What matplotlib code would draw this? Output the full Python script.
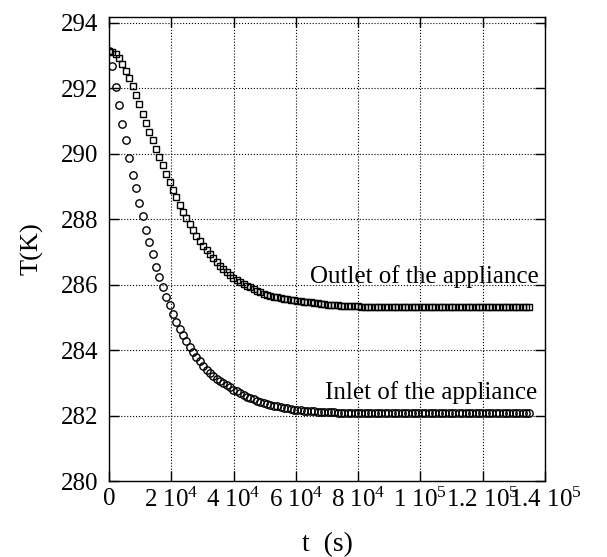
import numpy as np
import matplotlib.pyplot as plt

# time step between samples (s)
dt = 1080

# T(K) at the inlet of the appliance (circles)
inlet = [
    293.12, 292.66, 292.02, 291.47, 290.90, 290.40, 289.85, 289.36, 288.94, 288.48,
    288.08, 287.67, 287.30, 286.92, 286.55, 286.22, 285.92, 285.63, 285.36, 285.10,
    284.86, 284.64, 284.46, 284.27, 284.10, 283.93, 283.79, 283.65, 283.50, 283.39,
    283.30, 283.21, 283.13, 283.06, 283.00, 282.93, 282.86, 282.79, 282.74, 282.68,
    282.63, 282.58, 282.54, 282.49, 282.44, 282.41, 282.37, 282.34, 282.32, 282.30,
    282.28, 282.26, 282.24, 282.22, 282.20, 282.18, 282.17, 282.16, 282.15, 282.14,
    282.13, 282.13, 282.12, 282.12, 282.11, 282.11, 282.10, 282.10, 282.09, 282.09,
    282.09, 282.08, 282.08, 282.08, 282.08, 282.08, 282.08, 282.08, 282.08, 282.08,
    282.07, 282.07, 282.07, 282.07, 282.07, 282.07, 282.07, 282.07, 282.07, 282.07,
    282.07, 282.07, 282.07, 282.07, 282.07, 282.07, 282.07, 282.07, 282.07, 282.07,
    282.07, 282.07, 282.07, 282.07, 282.07, 282.07, 282.07, 282.07, 282.07, 282.07,
    282.07, 282.07, 282.07, 282.07, 282.07, 282.07, 282.07, 282.07, 282.07, 282.07,
    282.07, 282.07, 282.07, 282.07, 282.07, 282.07,
]

# T(K) at the outlet of the appliance (squares)
outlet = [
    293.12, 293.11, 293.04, 292.91, 292.73, 292.53, 292.30, 292.05, 291.78, 291.50,
    291.22, 290.93, 290.66, 290.40, 290.14, 289.89, 289.64, 289.39, 289.14, 288.90,
    288.66, 288.44, 288.23, 288.03, 287.84, 287.66, 287.49, 287.33, 287.18, 287.05,
    286.93, 286.81, 286.69, 286.58, 286.48, 286.38, 286.29, 286.21, 286.14, 286.07,
    286.01, 285.96, 285.91, 285.85, 285.80, 285.76, 285.72, 285.69, 285.66, 285.63,
    285.61, 285.59, 285.57, 285.55, 285.53, 285.52, 285.50, 285.49, 285.48, 285.47,
    285.46, 285.45, 285.43, 285.42, 285.40, 285.39, 285.38, 285.37, 285.36, 285.35,
    285.35, 285.34, 285.34, 285.33, 285.33, 285.32, 285.32, 285.32, 285.32, 285.32,
    285.32, 285.32, 285.32, 285.32, 285.32, 285.32, 285.32, 285.32, 285.32, 285.32,
    285.32, 285.32, 285.32, 285.32, 285.32, 285.32, 285.32, 285.32, 285.32, 285.32,
    285.32, 285.32, 285.32, 285.32, 285.32, 285.32, 285.32, 285.32, 285.32, 285.32,
    285.32, 285.32, 285.32, 285.32, 285.32, 285.32, 285.32, 285.32, 285.32, 285.32,
    285.32, 285.32, 285.32, 285.32, 285.32, 285.32,
]

xticks = [0, 20000, 40000, 60000, 80000, 100000, 120000, 140000]
xtick_labels = ["0", "2 10$^{4}$", "4 10$^{4}$", "6 10$^{4}$", "8 10$^{4}$",
                "1 10$^{5}$", "1.2 10$^{5}$", "1.4 10$^{5}$"]
yticks = [280, 282, 284, 286, 288, 290, 292, 294]


def temperatura():
    plt.rcParams['font.family'] = 'Liberation Serif'
    plt.rcParams['mathtext.fontset'] = 'custom'
    plt.rcParams['mathtext.rm'] = 'Liberation Serif'
    plt.rcParams['mathtext.it'] = 'Liberation Serif'

    t = np.arange(len(inlet)) * dt

    fig = plt.figure(figsize=(6.07, 5.57), dpi=100)
    ax = fig.add_axes([0.1796, 0.1364, 0.7183, 0.8331])

    ax.plot(t, inlet, linestyle='none', marker='o', markersize=5.3,
            markerfacecolor='none', markeredgecolor='black', markeredgewidth=1.0)
    ax.plot(t, outlet, linestyle='none', marker='s', markersize=4.2,
            markerfacecolor='none', markeredgecolor='black', markeredgewidth=1.0)

    ax.text(138000, 286.05, "Outlet of the appliance", fontsize=18,
            ha='right', va='baseline')
    ax.text(137500, 282.50, "Inlet of the appliance", fontsize=18,
            ha='right', va='baseline')

    ax.set_xlim(0, 140000)
    ax.set_ylim(280, 294.17)
    ax.set_xticks(xticks)
    ax.set_xticklabels(xtick_labels)
    ax.set_yticks(yticks)

    ax.grid(True, color='black', linestyle=':', linewidth=0.8)
    ax.tick_params(direction='in', length=7, width=1, labelsize=18,
                   top=True, right=True)
    ax.tick_params(axis='y', pad=8)
    ax.tick_params(axis='x', pad=5)
    for s in ax.spines.values():
        s.set_linewidth(1.0)

    ax.set_xlabel("t  (s)", fontsize=20, labelpad=14)
    ax.set_ylabel("T(K)", fontsize=19, labelpad=12)

    fig.savefig("out.png", dpi=100)


if __name__ == "__main__":
    temperatura()
